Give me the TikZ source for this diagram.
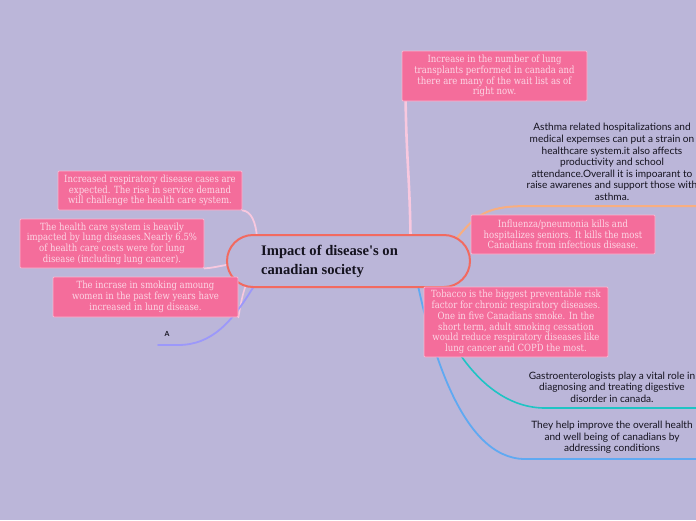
\documentclass[tikz,border=0pt]{standalone}
\usepackage{fontspec}
\setmainfont{DejaVu Serif}
\newfontfamily\boxfont[FakeStretch=0.86]{DejaVu Serif}
\newfontfamily\darkfont{Lato}
\newfontfamily\titlefont{Liberation Serif}
\definecolor{bgc}{HTML}{BBB6D9}
\definecolor{pinkbox}{HTML}{F46D9B}
\definecolor{pinkborder}{HTML}{F9B6D0}
\definecolor{boxtext}{HTML}{FCD6E5}
\definecolor{salmon}{HTML}{F26A60}
\definecolor{conpink}{HTML}{F8C8DF}
\definecolor{orangec}{HTML}{F8AE80}
\definecolor{tealc}{HTML}{1FC4C4}
\definecolor{bluec}{HTML}{5FA9F2}
\definecolor{violetc}{HTML}{9C98FA}
\definecolor{textdark}{HTML}{15131F}
\pgfdeclarelayer{bglayer}
\pgfdeclarelayer{conlayer}
\pgfsetlayers{bglayer,conlayer,main}
\tikzset{
  pbox/.style={draw=pinkborder, line width=0.8pt, fill=pinkbox, text=boxtext,
    font=\boxfont\fontsize{9.9}{10.7}\selectfont, align=center, inner sep=0pt, rounded corners=1pt},
  dtxt/.style={font=\darkfont\fontsize{10.1}{11.6}\selectfont, text=textdark, align=center, inner sep=0pt},
  conn/.style={line width=#1, line cap=round},
}
\begin{document}
\begin{tikzpicture}[x=1pt,y=-1pt]
\useasboundingbox (0,0) rectangle (696,520);
\begin{pgfonlayer}{bglayer}
\fill[bgc] (0,0) rectangle (696,520);
\end{pgfonlayer}

% central node
\node[draw=salmon, line width=2pt, fill=bgc, rounded corners=26pt, minimum width=243pt, minimum height=52pt, inner sep=0pt] (c) at (348.5,261) {};
\node[anchor=west, font=\titlefont\bfseries\fontsize{14.6}{19}\selectfont, text=textdark, align=left, inner sep=0pt] (title) at (261,261) {Impact of disease's on\\canadian society};

% pink boxes right
\node[pbox, minimum width=185pt, minimum height=50pt] (b1) at (494.5,76) {Increase in the number of lung\\transplants performed in canada and\\there are many of the wait list as of\\right now.};
\node[pbox, minimum width=184pt, minimum height=39pt] (b2) at (563,234.5) {Influenza/pneumonia kills and\\hospitalizes seniors. It kills the most\\Canadians from infectious disease.};
\node[pbox, minimum width=184pt, minimum height=70pt] (b3) at (516,322) {Tobacco is the biggest preventable risk\\factor for chronic respiratory diseases.\\One in five Canadians smoke. In the\\short term, adult smoking cessation\\would reduce respiratory diseases like\\lung cancer and COPD the most.};

% pink boxes left
\node[pbox, minimum width=184pt, minimum height=39pt] (l1) at (150,190.5) {Increased respiratory disease cases are\\expected. The rise in service demand\\will challenge the health care system.};
\node[pbox, minimum width=184pt, minimum height=49pt] (l2) at (112,243.5) {The health care system is heavily\\impacted by lung diseases.Nearly 6.5\%\\of health care costs were for lung\\disease (including lung cancer).};
\node[pbox, minimum width=185pt, minimum height=40pt] (l3) at (145.5,297) {The incrase in smoking amoung\\women in the past few years have\\increased in lung disease.};

% plain texts
\node[dtxt] (t1) at (612,162) {Asthma related hospitalizations and\\medical expemses can put a strain on\\healthcare system.it also affects\\productivity and school\\attendance.Overall it is impoarant to\\raise awarenes and support those with\\asthma.};
\node[dtxt] (t2) at (612,387) {Gastroenterologists play a vital role in\\diagnosing and treating digestive\\disorder in canada.};
\node[dtxt] (t3) at (612,437.5) {They help improve the overall health\\and well being of canadians by\\addressing conditions};
\node[font=\darkfont\bfseries\fontsize{7}{8}\selectfont, text=textdark, inner sep=0pt] (la) at (167,334) {A};

% connector end coordinates
\coordinate (oend) at (696,206);
\coordinate (tend) at (696,408);
\coordinate (bend) at (696,459);
\coordinate (aend) at (158,345);

\begin{pgfonlayer}{conlayer}
% top
\draw[conpink, conn=2.6pt] ([xshift=62pt,yshift=-1pt]c.north) .. controls +(-1,-60) and +(1,60) .. ([xshift=4pt]b1.south west);
% orange
\draw[orangec, conn=2pt] ([xshift=-14pt,yshift=-4pt]c.north east) .. controls (478,212) and (490,206) .. (530,206) -- (oend);
% teal
\draw[tealc, conn=1.6pt] ([xshift=80pt,yshift=2pt]c.south) .. controls (440,330) and (480,408) .. (545,408) -- (tend);
% blue
\draw[bluec, conn=1.8pt] ([xshift=70pt]c.south) .. controls (430,340) and (460,459) .. (525,459) -- (bend);
% left 1
\draw[conpink, conn=1.8pt] ([xshift=31pt,yshift=-4pt]c.north west) .. controls (256,222) and (251,211) .. (l1.south east);
% left 2
\draw[conpink, conn=1.8pt] ([yshift=-4pt]c.west) .. controls (220,266) and (212,268) .. (l2.south east);
% left 3
\draw[conpink, conn=1.6pt] ([xshift=20pt,yshift=3pt]c.south west) .. controls (242,295) and (240,308) .. (l3.south east);
% violet
\draw[violetc, conn=1.8pt] ([xshift=28pt,yshift=2pt]c.south west) .. controls (232,322) and (212,345) .. (178,345) -- (aend);
\end{pgfonlayer}
\end{tikzpicture}
\end{document}
